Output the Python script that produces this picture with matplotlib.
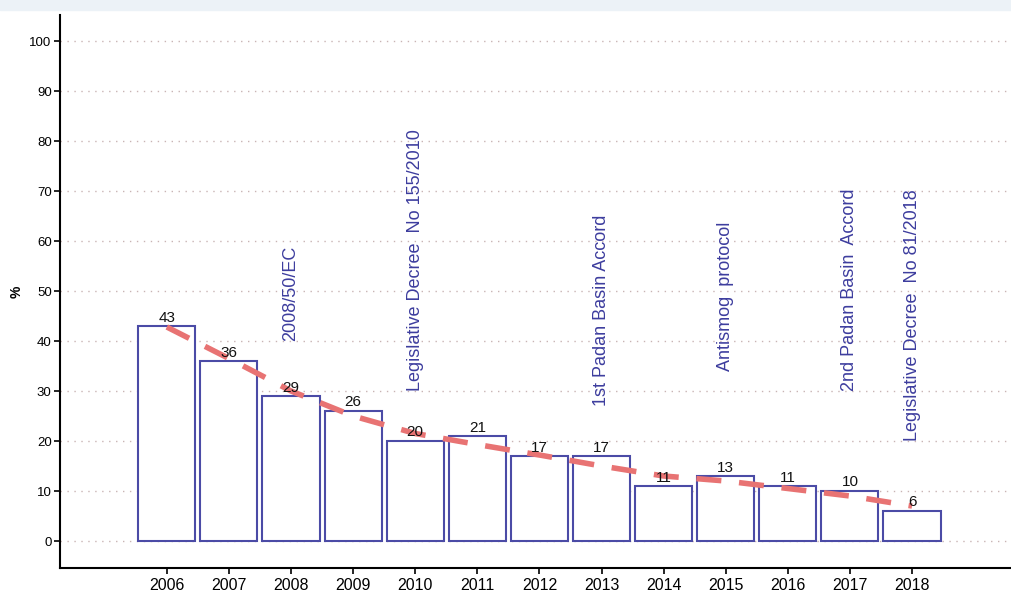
import matplotlib.pyplot as plt
from matplotlib.patches import Rectangle

plt.rcParams["font.family"] = ["Liberation Sans", "DejaVu Sans"]

# Data
years = [2006, 2007, 2008, 2009, 2010, 2011, 2012, 2013, 2014, 2015, 2016, 2017, 2018]
values = [43, 36, 29, 26, 20, 21, 17, 17, 11, 13, 11, 10, 6]
trend = [42.8, 36.5, 30, 25, 21.5, 19.3, 17.2, 15, 13, 12, 10.5, 9, 7]

event_years = [2008, 2010, 2013, 2015, 2017, 2018]
event_bottoms = [40, 30, 27, 34, 30, 20]
event_labels = [
    "2008/50/EC",
    "Legislative Decree  No 155/2010",
    "1st Padan Basin Accord",
    "Antismog  protocol",
    "2nd Padan Basin  Accord",
    "Legislative Decree  No 81/2018",
]

fig = plt.figure(figsize=(10.12, 5.94), dpi=100)
fig.patches.append(Rectangle((0, 1 - 10 / 594), 1, 10 / 594, transform=fig.transFigure,
                             color="#ecf2f7", zorder=0))
ax = fig.add_axes([60 / 1012, 26 / 594, 1 - 60 / 1012, 553 / 594])

# grid
ax.set_yticks(range(0, 101, 10))
ax.yaxis.grid(True, linestyle=(0, (1, 4)), color="#c9b4b4", linewidth=1.0)
ax.set_axisbelow(True)

# bars
ax.bar(years, values, width=0.92, facecolor="white", edgecolor="#4b4ba6", linewidth=1.5, zorder=2)
for x, v in zip(years, values):
    ax.text(x, v + 0.3, str(v), ha="center", va="bottom", fontsize=11, color="#111111", zorder=4)

# trend
ax.plot(years, trend, color="#e87373", linewidth=4, linestyle=(0, (4.5, 3.2)), zorder=3)

# events
for x, b, t in zip(event_years, event_bottoms, event_labels):
    ax.text(x, b, t, rotation=90, ha="center", va="bottom", fontsize=13, color="#3d3d9e", zorder=4)

ax.set_xlim(2004.28, 2019.61)
ax.set_ylim(-5.4, 105.2)
ax.set_xticks(years)
ax.set_xticklabels([str(y) for y in years], fontsize=11.5)
ax.tick_params(axis="y", labelsize=9.5, length=4, width=1.2, pad=2)
ax.tick_params(axis="x", length=4, width=1.2, pad=3)
ax.spines["top"].set_visible(False)
ax.spines["right"].set_visible(False)
ax.spines["left"].set_linewidth(1.5)
ax.spines["bottom"].set_linewidth(1.5)
ax.set_ylabel("%", fontsize=10, fontweight="bold", labelpad=4)

fig.savefig("out.png", dpi=100)
